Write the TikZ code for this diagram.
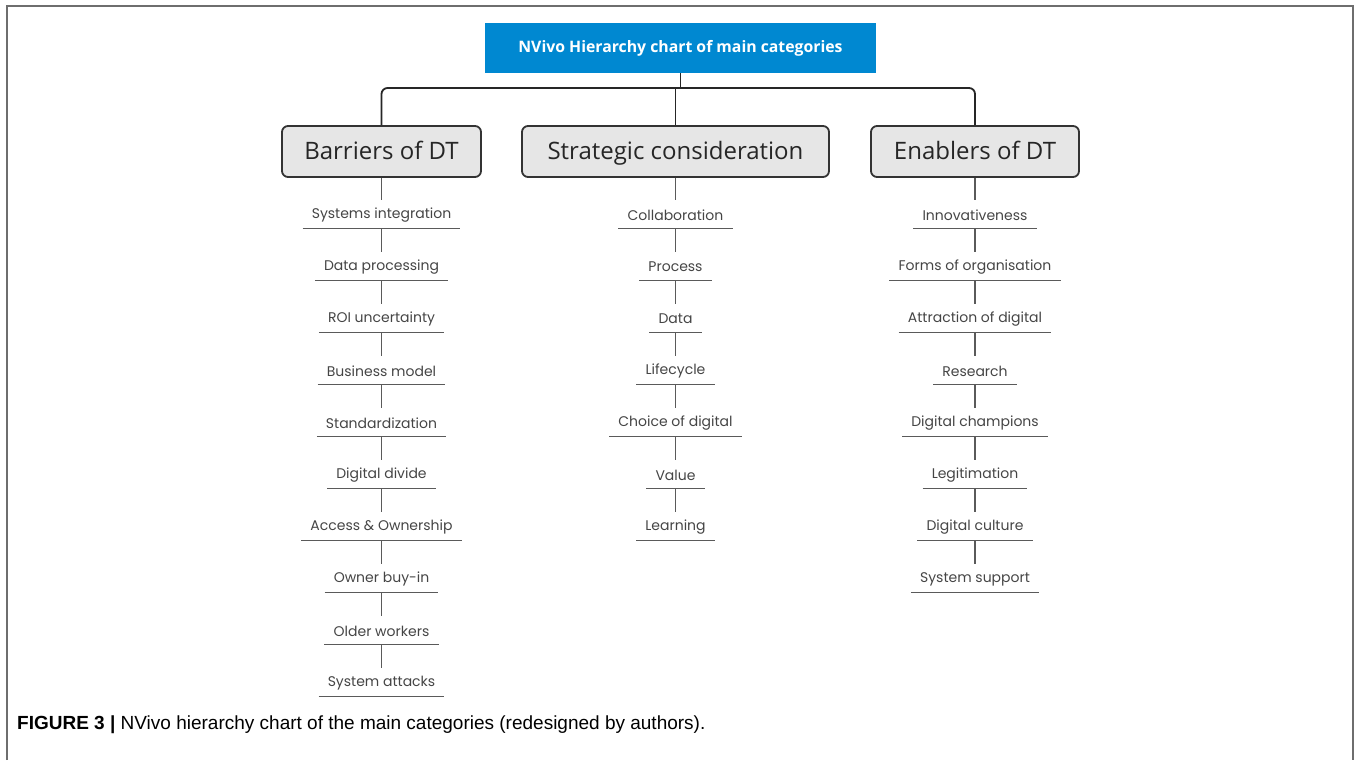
\documentclass[tikz,border=0pt]{standalone}
\usepackage{fontspec}
\setmainfont{Liberation Sans}
\newfontfamily\itemfont{Poppins}
\newfontfamily\catfont{Open Sans}
\definecolor{nvblue}{HTML}{0088D1}
\definecolor{catfill}{HTML}{E6E6E6}
\definecolor{itemtxt}{HTML}{454545}
\definecolor{itemline}{HTML}{5A5A5A}
\definecolor{framecol}{HTML}{6E6E6E}
\begin{document}
\begin{tikzpicture}[x=1pt,y=-1pt,
  topbox/.style={fill=nvblue, text=white, minimum width=391pt, minimum height=50pt,
    font=\catfont\bfseries\fontsize{15.8}{18}\selectfont, inner sep=0pt},
  catbox/.style={draw=black!80, line width=1.8pt, fill=catfill, rounded corners=6pt,
    minimum height=51pt, inner sep=0pt, text height=18pt, text depth=2pt,
    font=\catfont\fontsize{24}{28}\selectfont, text=black!85},
  itembox/.style={minimum height=26pt, inner xsep=9pt, inner ysep=0pt, text=itemtxt,
    font=\itemfont\fontsize{14}{16}\selectfont},
  uline/.style={draw=itemline, line width=1.3pt},
  conn/.style={draw=itemline, line width=1.2pt},
  tconn/.style={draw=black!85, line width=1.8pt}
]
\useasboundingbox (0,0) rectangle (1356,760);
\draw[framecol, line width=1.3pt] (7,760) -- (7,6) -- (1353,6) -- (1353,760);

\node[topbox] (top) at (680.5,48) {NVivo Hierarchy chart of main categories};

\node[catbox, minimum width=199pt] (bar) at (381.5,151.5) {Barriers of DT};
\node[catbox, minimum width=307pt] (str) at (675.5,151.5) {Strategic consideration};
\node[catbox, minimum width=208pt] (ena) at (975,151.5) {Enablers of DT};

\coordinate (hub) at (680.5,88);
\draw[tconn] (top.south) -- (hub);
\draw[tconn, rounded corners=6pt] (bar.north) |- (hub) -| (ena.north);
\draw[tconn] (str.north) -- (str.north |- hub);

% Barriers
\foreach \t [count=\i] in {Systems integration, Data processing, ROI uncertainty, Business model,
  Standardization, Digital divide, Access \& Ownership, Owner buy-in, Older workers, System attacks}{
  \node[itembox] (b\i) at (381.5,{215+52*(\i-1)}) {\t};
  \draw[uline] (b\i.south west) -- (b\i.south east);
}
% Strategic
\foreach \t [count=\i] in {Collaboration, Process, Data, Lifecycle, Choice of digital, Value, Learning}{
  \node[itembox] (s\i) at (675.5,{215+52*(\i-1)}) {\t};
  \draw[uline] (s\i.south west) -- (s\i.south east);
}
% Enablers
\foreach \t [count=\i] in {Innovativeness, Forms of organisation, Attraction of digital, Research,
  Digital champions, Legitimation, Digital culture, System support}{
  \node[itembox] (e\i) at (975,{215+52*(\i-1)}) {\t};
  \draw[uline] (e\i.south west) -- (e\i.south east);
}

\draw[conn, shorten >=2pt] (bar.south) -- (b1.north);
\draw[conn, shorten >=2pt] (str.south) -- (s1.north);
\draw[conn, shorten >=2pt] (ena.south) -- (e1.north);
\foreach \i [evaluate=\i as \j using int(\i+1)] in {1,...,9}{
  \draw[conn, shorten >=2pt] (b\i.south) -- (b\j.north);
}
\foreach \i [evaluate=\i as \j using int(\i+1)] in {1,...,6}{
  \draw[conn, shorten >=2pt] (s\i.south) -- (s\j.north);
}
\foreach \i [evaluate=\i as \j using int(\i+1)] in {1,...,7}{
  \draw[conn, shorten >=2pt] (e\i.south) -- (e\j.north);
}

\node[anchor=west, inner sep=0pt, font=\fontsize{19}{22}\selectfont] (cap) at (17,725)
  {\textbf{FIGURE 3 |} NVivo hierarchy chart of the main categories (redesigned by authors).};
\end{tikzpicture}
\end{document}
